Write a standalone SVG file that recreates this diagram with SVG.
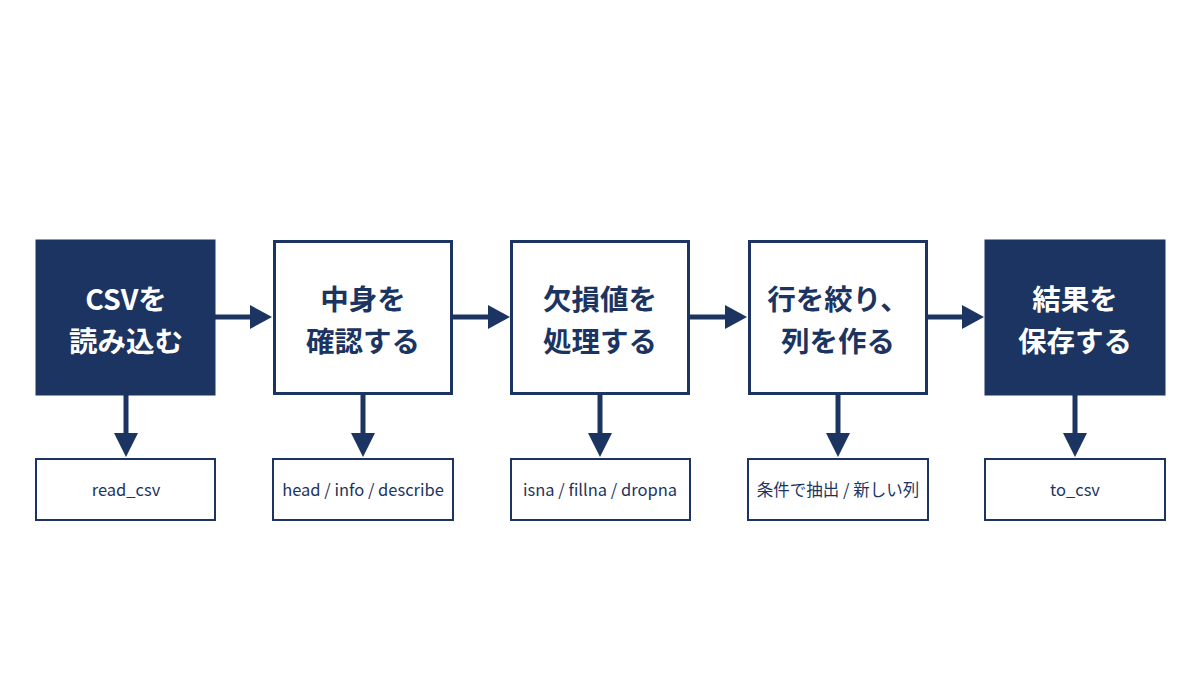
<svg xmlns="http://www.w3.org/2000/svg" width="1200" height="675" viewBox="0 0 1200 675">
<defs>
<style>
.dark{fill:#1c3461;stroke:#1c3461;stroke-width:3}
.light{fill:#ffffff;stroke:#1c3461;stroke-width:3}
.sub{fill:#ffffff;stroke:#1c3461;stroke-width:2}
.t{font-family:"Noto Sans CJK JP","Noto Sans",sans-serif;font-weight:700;font-size:28.5px;text-anchor:middle}
.tw{fill:#ffffff}
.tn{fill:#1c3461}
.s{font-family:"Noto Sans CJK JP","Noto Sans",sans-serif;font-size:16.5px;text-anchor:middle;fill:#1c3461}
.c{stroke:#1c3461;stroke-width:5;fill:none}
.h{fill:#1c3461}
</style>
</defs>
<rect width="1200" height="675" fill="#ffffff"/>
<g id="connectors">
<line class="c" x1="215" y1="317" x2="252" y2="317"/><polygon class="h" points="250,305 272,317 250,329"/>
<line class="c" x1="453" y1="317" x2="490" y2="317"/><polygon class="h" points="488,305 510,317 488,329"/>
<line class="c" x1="690" y1="317" x2="727" y2="317"/><polygon class="h" points="725,305 747,317 725,329"/>
<line class="c" x1="928" y1="317" x2="964" y2="317"/><polygon class="h" points="962,305 984,317 962,329"/>
<line class="c" x1="126" y1="395" x2="126" y2="435"/><polygon class="h" points="114,433 126,457 138,433"/>
<line class="c" x1="363" y1="395" x2="363" y2="435"/><polygon class="h" points="351,433 363,457 375,433"/>
<line class="c" x1="600" y1="395" x2="600" y2="435"/><polygon class="h" points="588,433 600,457 612,433"/>
<line class="c" x1="838" y1="395" x2="838" y2="435"/><polygon class="h" points="826,433 838,457 850,433"/>
<line class="c" x1="1075" y1="395" x2="1075" y2="435"/><polygon class="h" points="1063,433 1075,457 1087,433"/>
</g>
<g id="n1">
<rect class="dark" x="37" y="241" width="177" height="153"/>
<text class="t tw" x="126" y="310">CSVを</text>
<text class="t tw" x="126" y="352">読み込む</text>
</g>
<g id="n2">
<rect class="light" x="274.5" y="241.5" width="177" height="152"/>
<text class="t tn" x="363" y="310">中身を</text>
<text class="t tn" x="363" y="352">確認する</text>
</g>
<g id="n3">
<rect class="light" x="511.5" y="241.5" width="177" height="152"/>
<text class="t tn" x="600" y="310">欠損値を</text>
<text class="t tn" x="600" y="352">処理する</text>
</g>
<g id="n4">
<rect class="light" x="749.5" y="241.5" width="177" height="152"/>
<text class="t tn" x="838" y="310">行を絞り、</text>
<text class="t tn" x="838" y="352">列を作る</text>
</g>
<g id="n5">
<rect class="dark" x="986" y="241" width="178" height="153"/>
<text class="t tw" x="1075" y="310">結果を</text>
<text class="t tw" x="1075" y="352">保存する</text>
</g>
<g id="s1"><rect class="sub" x="36" y="459" width="179" height="61"/><text class="s" x="126" y="496">read_csv</text></g>
<g id="s2"><rect class="sub" x="273" y="459" width="180" height="61"/><text class="s" x="363" y="496">head / info / describe</text></g>
<g id="s3"><rect class="sub" x="511" y="459" width="179" height="61"/><text class="s" x="600" y="496">isna / fillna / dropna</text></g>
<g id="s4"><rect class="sub" x="748" y="459" width="180" height="61"/><text class="s" x="838" y="496">条件で抽出 / 新しい列</text></g>
<g id="s5"><rect class="sub" x="985" y="459" width="180" height="61"/><text class="s" x="1075" y="496">to_csv</text></g>
</svg>
